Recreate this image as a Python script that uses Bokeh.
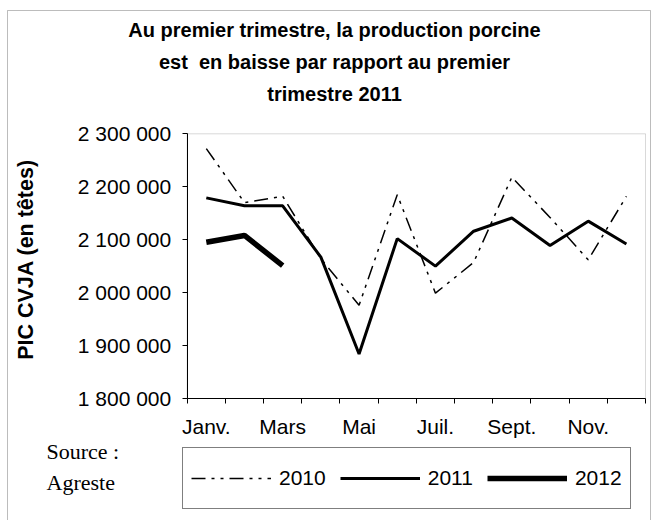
import math
from bokeh.plotting import figure
from bokeh.models import FixedTicker, Label, Legend, LegendItem, BoxAnnotation
from bokeh.embed import file_html
from bokeh.resources import INLINE

# ---- data ----
months = [1, 2, 3, 4, 5, 6, 7, 8, 9, 10, 11, 12]
month_labels = {1: "Janv.", 3: "Mars", 5: "Mai", 7: "Juil.", 9: "Sept.", 11: "Nov."}
y2010 = [2272000, 2170000, 2182000, 2064000, 1976000, 2185000,
         1999000, 2057000, 2218000, 2142000, 2062000, 2182000]
y2011 = [2179000, 2164000, 2164000, 2067000, 1884000, 2102000,
         2050000, 2116000, 2141000, 2089000, 2135000, 2092000]
months_2012 = [1, 2, 3]
y2012 = [2095000, 2108000, 2051000]
y_ticks = [1800000, 1900000, 2000000, 2100000, 2200000, 2300000]
title_lines = ["Au premier trimestre, la production porcine",
               "est\u00a0 en baisse par rapport au premier",
               "trimestre 2011"]
y_title = "PIC CVJA (en têtes)"
source_lines = ["Source :", "Agreste"]

SANS = "Liberation Sans"
SERIF = "Liberation Serif"

# ---- layout (pixels on the canvas) ----
W, H = 656, 520
PL, PR, PT, PB = 186.7, 645.0, 133.3, 398.0   # plot area edges
X0, X1 = 0.5, 12.5
Y0, Y1 = y_ticks[0], y_ticks[-1]
xu = (X1 - X0) / (PR - PL)
yu = (Y1 - Y0) / (PB - PT)
x_range = (X0 - PL * xu, X1 + (W - PR) * xu)
y_range = (Y0 - (H - PB) * yu, Y1 + PT * yu)

p = figure(width=W, height=H, output_backend="svg", toolbar_location=None,
           x_range=x_range, y_range=y_range,
           min_border=0, min_border_left=0, min_border_right=0,
           min_border_top=0, min_border_bottom=0)
p.background_fill_color = "white"
p.border_fill_color = "white"
p.outline_line_color = None
p.grid.visible = False

# plot-area border (grey) and outer chart border
p.add_layout(BoxAnnotation(left=X0, right=X1, bottom=Y0, top=Y1,
                           fill_alpha=0, line_color="#808080", line_width=1,
                           level="underlay"))
p.add_layout(BoxAnnotation(left=7, right=650, bottom=-10, top=H - 10,
                           left_units="screen", right_units="screen",
                           bottom_units="screen", top_units="screen",
                           fill_alpha=0, line_color="#222222", line_width=1,
                           level="underlay"))

# x axis
xa = p.xaxis[0]
xa.fixed_location = Y0
xa.bounds = (X0, X1)
xa.ticker = FixedTicker(ticks=[1, 3, 5, 7, 9, 11],
                        minor_ticks=[m - 0.5 for m in months] + [12.5])
xa.major_label_overrides = month_labels
xa.major_tick_out = 0
xa.major_tick_in = 0
xa.minor_tick_out = 5
xa.minor_tick_in = 0
xa.minor_tick_line_color = "black"
xa.axis_line_color = "black"
xa.major_label_text_font = SANS
xa.major_label_text_font_size = "21px"
xa.major_label_text_color = "black"
xa.major_label_standoff = 11

# y axis
ya = p.yaxis[0]
ya.fixed_location = X0
ya.bounds = (Y0, Y1)
ya.ticker = FixedTicker(ticks=y_ticks, minor_ticks=[])
ya.major_label_overrides = {t: f"{t:,}".replace(",", " ") for t in y_ticks}
ya.major_tick_out = 5
ya.major_tick_in = 0
ya.major_tick_line_color = "black"
ya.axis_line_color = "black"
ya.major_label_text_font = SANS
ya.major_label_text_font_size = "21px"
ya.major_label_text_color = "black"
ya.major_label_standoff = 11

r2010 = p.line(months, y2010, line_color="black", line_width=1.5,
               line_dash="14 6 3 6 3 6")
r2011 = p.line(months, y2011, line_color="black", line_width=3)
r2012 = p.line(months_2012, y2012, line_color="black", line_width=5.5)

legend = Legend(items=[LegendItem(label="2010", renderers=[r2010]),
                       LegendItem(label="2011", renderers=[r2011]),
                       LegendItem(label="2012", renderers=[r2012])],
                orientation="horizontal", location=(182, 11), margin=0,
                padding=8, spacing=14, glyph_width=80, glyph_height=44,
                label_standoff=8, label_text_font=SANS,
                label_text_font_size="21px", label_text_color="black",
                border_line_color="black", border_line_width=1,
                background_fill_color="white", background_fill_alpha=1)
p.add_layout(legend)

# title lines (screen units: origin at bottom-left of the canvas)
for i, line in enumerate(title_lines):
    p.add_layout(Label(x=334, y=H - 29 - 32 * i, x_units="screen", y_units="screen",
                       text=line, text_align="center", text_baseline="alphabetic",
                       text_font=SANS, text_font_style="bold",
                       text_font_size="20px", text_color="black"))

p.add_layout(Label(x=25, y=H - 259, x_units="screen", y_units="screen",
                   text=y_title, angle=math.pi / 2, text_align="center",
                   text_baseline="alphabetic", text_font=SANS,
                   text_font_style="bold", text_font_size="21.5px",
                   text_color="black"))

for i, line in enumerate(source_lines):
    p.add_layout(Label(x=46, y=H - 451 - 31 * i, x_units="screen", y_units="screen",
                       text=line, text_align="left", text_baseline="alphabetic",
                       text_font=SERIF, text_font_size="22px", text_color="black"))

open("out.html", "w").write(file_html(p, INLINE))
